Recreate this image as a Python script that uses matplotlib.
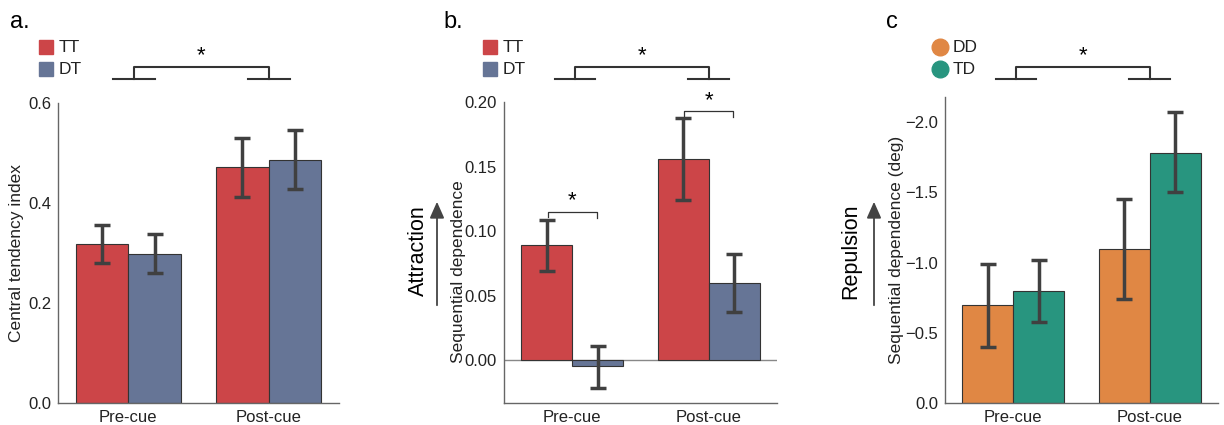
import matplotlib
matplotlib.use('Agg')
import matplotlib.pyplot as plt
import matplotlib.transforms as mtrans
from matplotlib.lines import Line2D
from matplotlib.patches import FancyArrowPatch
import numpy as np

plt.rcParams['font.family'] = ['Liberation Sans', 'DejaVu Sans']

conditions = ['Pre-cue', 'Post-cue']

# panel a
a_tt = [0.318, 0.472]
a_tt_err = [(0.280, 0.356), (0.412, 0.530)]
a_dt = [0.298, 0.486]
a_dt_err = [(0.260, 0.338), (0.428, 0.546)]

# panel b
b_tt = [0.089, 0.156]
b_tt_err = [(0.069, 0.1085), (0.124, 0.1876)]
b_dt = [-0.005, 0.060]
b_dt_err = [(-0.022, 0.011), (0.037, 0.082)]

# panel c
c_dd = [-0.70, -1.10]
c_dd_err = [(-0.41, -1.00), (-0.75, -1.46)]
c_td = [-0.80, -1.78]
c_td_err = [(-0.58, -1.02), (-1.49, -2.06)]

RED = '#CC4548'
BLUE = '#667596'
ORANGE = '#E08744'
TEAL = '#28957F'
ERR = '#404040'
SPINE = '#666666'
TXT = '#222222'

W, H = 1224, 425
fig = plt.figure(figsize=(W / 100, H / 100), dpi=100)


def px(x0, y0, x1, y1):
    return [x0 / W, 1 - y1 / H, (x1 - x0) / W, (y1 - y0) / H]


ax_a = fig.add_axes(px(58, 103, 339, 403))
ax_b = fig.add_axes(px(504, 102, 777, 403))
ax_c = fig.add_axes(px(945, 97, 1218, 403))

bw = 0.375
x = np.arange(len(conditions))


def draw_bars(ax, v1, e1, c1, v2, e2, c2):
    for vals, errs, col, off in [(v1, e1, c1, -bw / 2), (v2, e2, c2, bw / 2)]:
        ax.bar(x + off, vals, width=bw, color=col, edgecolor='#333333', linewidth=0.8, zorder=2)
        lo = [abs(v - e[0]) for v, e in zip(vals, errs)]
        hi = [abs(e[1] - v) for v, e in zip(vals, errs)]
        ax.errorbar(x + off, vals, yerr=[lo, hi], fmt='none', ecolor=ERR,
                    elinewidth=2.5, capsize=6, capthick=2.5, zorder=3)
    ax.set_xlim(-0.5, 1.5)
    ax.set_xticks(x)
    ax.set_xticklabels(conditions)
    for s in ['top', 'right']:
        ax.spines[s].set_visible(False)
    for s in ['left', 'bottom']:
        ax.spines[s].set_color(SPINE)
        ax.spines[s].set_linewidth(1.0)
    ax.tick_params(length=0, labelsize=12, colors=TXT, pad=5)


draw_bars(ax_a, a_tt, a_tt_err, RED, a_dt, a_dt_err, BLUE)
ax_a.set_ylim(0, 0.6)
ax_a.set_yticks([0.0, 0.2, 0.4, 0.6])
fig.text(17 / W, 1 - 253 / H, 'Central tendency index', rotation=90, fontsize=12.5,
         color=TXT, ha='center', va='center')

draw_bars(ax_b, b_tt, b_tt_err, RED, b_dt, b_dt_err, BLUE)
ax_b.set_ylim(-0.0333, 0.20)
ax_b.set_yticks([0.0, 0.05, 0.10, 0.15, 0.20])
ax_b.set_yticklabels(['0.00', '0.05', '0.10', '0.15', '0.20'])
ax_b.axhline(0, color='#888888', lw=1.0, zorder=1)

draw_bars(ax_c, c_dd, c_dd_err, ORANGE, c_td, c_td_err, TEAL)
ax_c.set_ylim(0, -2.18)
ax_c.set_yticks([0.0, -0.5, -1.0, -1.5, -2.0])
ax_c.set_yticklabels(['0.0', '\u22120.5', '\u22121.0', '\u22121.5', '\u22122.0'])

# top brackets between conditions
for ax, xl in [(ax_a, 0.04), (ax_b, 0.02), (ax_c, 0.02)]:
    tr = mtrans.blended_transform_factory(ax.transData, fig.transFigure)
    yf, yt = 1 - 79 / H, 1 - 67 / H
    kw = dict(color='#333333', lw=1.5, transform=tr, clip_on=False)
    ax.add_line(Line2D([xl - 0.15, xl + 0.15], [yf, yf], **kw))
    ax.add_line(Line2D([1 - 0.15, 1 + 0.15], [yf, yf], **kw))
    ax.add_line(Line2D([xl, xl, 1, 1], [yf, yt, yt, yf], **kw))
    ax.text((xl + 1) / 2, yt + 0.002, '*', transform=tr, ha='center', va='bottom', fontsize=16)

# within-condition brackets in b
for cx, yb in [(0, 0.115), (1, 0.193)]:
    ax_b.plot([cx - 0.18, cx - 0.18, cx + 0.18, cx + 0.18], [yb - 0.004, yb, yb, yb - 0.005],
              color='#333333', lw=0.9, clip_on=False, zorder=4)
    ax_b.text(cx, yb, '*', ha='center', va='bottom', fontsize=16)

# legends
for xm, labels, cols, mk in [(46, ['TT', 'DT'], [RED, BLUE], 's'),
                             (490, ['TT', 'DT'], [RED, BLUE], 's'),
                             (940, ['DD', 'TD'], [ORANGE, TEAL], 'o')]:
    for lab, col, yp in zip(labels, cols, [47, 69]):
        fig.add_artist(Line2D([xm / W], [1 - yp / H], marker=mk, color=col, markersize=10 if mk == 's' else 12,
                              linestyle='none', transform=fig.transFigure))
        fig.text((xm + 13) / W, 1 - yp / H, lab, fontsize=12.5, va='center', ha='left', color=TXT)

# panel letters
fig.text(10 / W, 1 - 22 / H, 'a.', fontsize=17, va='center')
fig.text(443 / W, 1 - 22 / H, 'b.', fontsize=17, va='center')
fig.text(886 / W, 1 - 22 / H, 'c', fontsize=17, va='center')

# direction labels
fig.text(458 / W, 1 - 272 / H, 'Sequential dependence', rotation=90, fontsize=12.5,
         color=TXT, ha='center', va='center')
fig.text(418 / W, 1 - 251 / H, 'Attraction', rotation=90, fontsize=15.5, ha='center', va='center')
fig.text(897 / W, 1 - 250 / H, 'Sequential dependence (deg)', rotation=90, fontsize=12.5,
         color=TXT, ha='center', va='center')
fig.text(851 / W, 1 - 251 / H, 'Repulsion', rotation=90, fontsize=15.5, ha='center', va='center')
for xa in [437, 874]:
    fig.add_artist(FancyArrowPatch((xa / W, 1 - 308 / H), (xa / W, 1 - 199 / H),
                                   transform=fig.transFigure, arrowstyle='-|>,head_length=0.45,head_width=0.2',
                                   mutation_scale=22, color='#444444', lw=1.3))

fig.savefig('out.png', dpi=100)
